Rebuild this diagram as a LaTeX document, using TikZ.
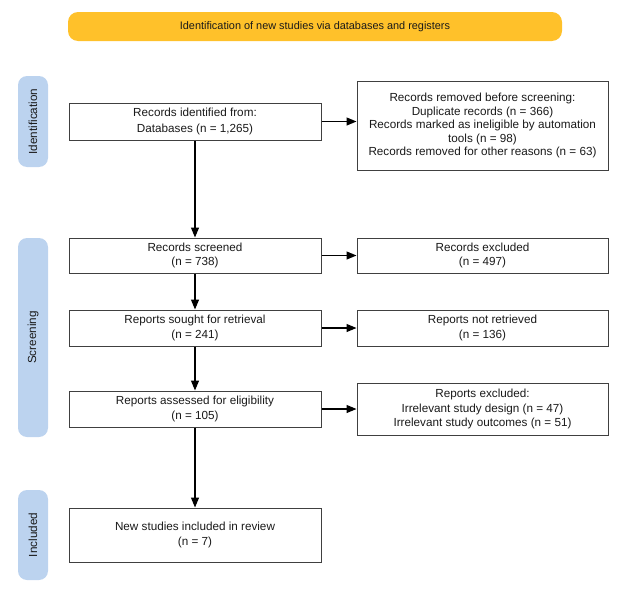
\documentclass[tikz,border=0pt]{standalone}
\usepackage{fontspec}
\setmainfont{Liberation Sans}
\usetikzlibrary{arrows.meta}
\definecolor{bannerY}{HTML}{FFC12A}
\definecolor{pillB}{HTML}{BCD3EF}
\definecolor{boxline}{HTML}{404040}
\definecolor{txt}{HTML}{1A1A1A}
\tikzset{
  stagebox/.style={draw=boxline, line width=1pt, fill=white, inner sep=0pt, align=center,
    text=txt, font=\fontsize{11.7}{14.5}\selectfont},
  pill/.style={fill=pillB, rounded corners=9pt, inner sep=0pt, text=txt,
    font=\fontsize{11.7}{14}\selectfont},
  flow/.style={line width=1.2pt, -{Triangle[length=10pt,width=8pt]}}
}
\begin{document}
\begin{tikzpicture}[x=1pt,y=-1pt]
\useasboundingbox (0,0) rectangle (630,605);
% banner
\node[fill=bannerY, rounded corners=10pt, minimum width=494pt, minimum height=29pt, inner sep=0pt,
  text=txt, font=\fontsize{10.9}{13}\selectfont] (banner) at (315,26.5)
  {Identification of new studies via databases and registers};
% stage pills
\node[pill, minimum width=30pt, minimum height=91pt] (pid) at (33,121.5) {};
\node[rotate=90, text=txt, font=\fontsize{11.7}{14}\selectfont] (pidt) at (pid.center) {Identification};
\node[pill, minimum width=30pt, minimum height=199pt] (psc) at (33,337.5) {};
\node[rotate=90, text=txt, font=\fontsize{11.7}{14}\selectfont] (psct) at (psc.center) {Screening};
\node[pill, minimum width=30pt, minimum height=90pt] (pin) at (33,535) {};
\node[rotate=90, text=txt, font=\fontsize{11.7}{14}\selectfont] (pint) at (pin.center) {Included};
% left column
\node[stagebox, minimum width=252pt, minimum height=37pt, font=\fontsize{11.7}{15.5}\selectfont] (ident) at (195,121.5)
  {Records identified from:\\Databases (n = 1,265)};
\node[stagebox, minimum width=252pt, minimum height=35pt] (screened) at (195,255.5)
  {Records screened\\(n = 738)};
\node[stagebox, minimum width=252pt, minimum height=36pt] (sought) at (195,328)
  {Reports sought for retrieval\\(n = 241)};
\node[stagebox, minimum width=252pt, minimum height=36pt] (assessed) at (195,409)
  {Reports assessed for eligibility\\(n = 105)};
\node[stagebox, minimum width=252pt, minimum height=54pt] (included) at (195,535)
  {New studies included in review\\(n = 7)};
% right column
\node[stagebox, minimum width=251pt, minimum height=89pt, font=\fontsize{11.7}{13.5}\selectfont] (removed) at (482.5,125.5)
  {Records removed before screening:\\Duplicate records (n = 366)\\Records marked as ineligible by automation\\tools (n = 98)\\Records removed for other reasons (n = 63)};
\node[stagebox, minimum width=251pt, minimum height=35pt] (excluded) at (482.5,255.5)
  {Records excluded\\(n = 497)};
\node[stagebox, minimum width=251pt, minimum height=36pt] (notretr) at (482.5,328)
  {Reports not retrieved\\(n = 136)};
\node[stagebox, minimum width=251pt, minimum height=52pt] (repexcl) at (482.5,409)
  {Reports excluded:\\Irrelevant study design (n = 47)\\Irrelevant study outcomes (n = 51)};
% arrows
\draw[flow] (ident.south) -- (screened.north);
\draw[flow] (screened.south) -- (sought.north);
\draw[flow] (sought.south) -- (assessed.north);
\draw[flow] (assessed.south) -- (included.north);
\draw[flow] (ident.east) -- (ident.east -| removed.west);
\draw[flow] (screened.east) -- (excluded.west);
\draw[flow] (sought.east) -- (notretr.west);
\draw[flow] (assessed.east) -- (repexcl.west);
\end{tikzpicture}
\end{document}
